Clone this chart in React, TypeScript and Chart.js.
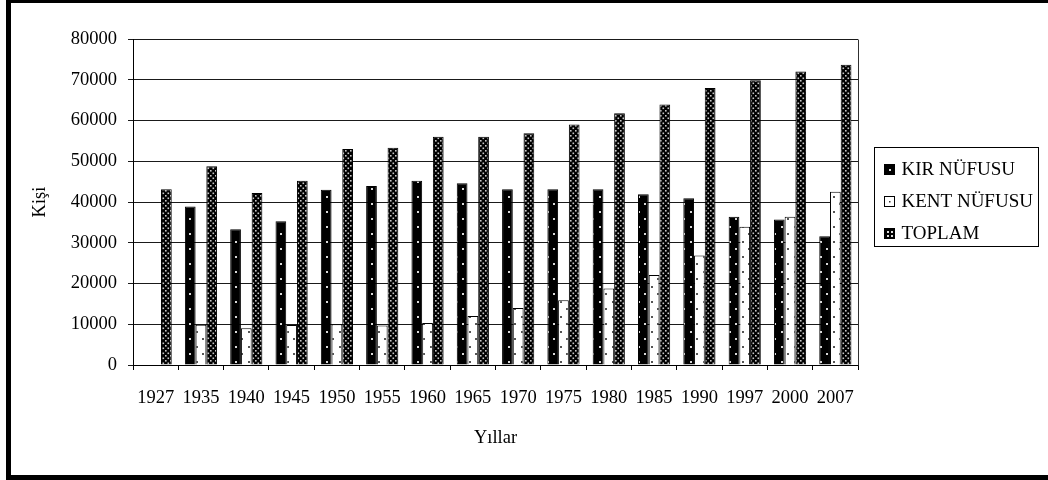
import React, { useEffect, useRef } from 'react';
import { Chart, registerables } from 'chart.js';

Chart.register(...registerables);

const years = ['1927', '1935', '1940', '1945', '1950', '1955', '1960', '1965', '1970', '1975', '1980', '1985', '1990', '1997', '2000', '2007'];
const kirNufusu = [null, 38900, 33300, 35300, 43000, 43900, 45200, 44600, 43100, 43100, 43100, 41900, 40900, 36400, 35700, 31600];
const kentNufusu = [null, 9900, 9000, 9800, 10000, 9700, 10300, 12000, 14000, 15900, 18800, 22100, 26900, 33900, 36400, 42500];
const toplam = [43100, 48800, 42200, 45200, 53000, 53300, 56000, 56000, 56900, 59000, 61800, 63900, 68000, 69900, 72000, 73700];
const seriesLabels = ['KIR NÜFUSU', 'KENT NÜFUSU', 'TOPLAM'];
const yMin = 0;
const yMax = 80000;
const yStep = 10000;
const xTitle = 'Yıllar';
const yTitle = 'Kişi';

const FONT = "'Liberation Serif', 'Times New Roman', Times, serif";

function makePattern(
  ctx: CanvasRenderingContext2D,
  w: number,
  h: number,
  bg: string,
  fg: string,
  dots: [number, number][],
  size: number
) {
  const c = document.createElement('canvas');
  c.width = w;
  c.height = h;
  const g = c.getContext('2d')!;
  g.fillStyle = bg;
  g.fillRect(0, 0, w, h);
  g.fillStyle = fg;
  dots.forEach(([x, y]) => g.fillRect(x, y, size, size));
  return ctx.createPattern(c, 'repeat')!;
}

export default function App() {
  const ref = useRef<HTMLCanvasElement>(null);

  useEffect(() => {
    const canvas = ref.current!;
    const ctx = canvas.getContext('2d')!;
    const pKir = makePattern(ctx, 13, 15, '#000', '#d8d8d8', [[1, 1], [7, 8]], 2);
    const pKent = makePattern(ctx, 13, 15, '#fff', '#555', [[1, 1], [7, 8]], 2);
    const pTop = makePattern(ctx, 5, 5, '#000', '#c8c8c8', [[0, 0], [2.5, 2.5]], 1.6);

    const decor = {
      id: 'decor',
      beforeDraw(chart: any) {
        const c = chart.ctx;
        c.save();
        c.fillStyle = '#fff';
        c.fillRect(0, 0, chart.width, chart.height);
        c.restore();
      },
      afterDraw(chart: any) {
        const c: CanvasRenderingContext2D = chart.ctx;
        const ca = chart.chartArea;
        c.save();
        // plot area border (right side)
        c.strokeStyle = '#303030';
        c.lineWidth = 1;
        c.beginPath();
        const rx = Math.round(ca.right) + 0.5;
        c.moveTo(rx, Math.round(ca.top) + 0.5);
        c.lineTo(rx, Math.round(ca.bottom) + 0.5);
        c.stroke();

        // legend
        const lx = Math.round(ca.right) + 16.5;
        const ly = Math.round(ca.top) + 108.5;
        const lw = 164;
        const lh = 99;
        c.strokeStyle = '#000';
        c.strokeRect(lx, ly, lw, lh);
        c.font = `19px ${FONT}`;
        c.textBaseline = 'middle';
        c.textAlign = 'left';
        seriesLabels.forEach((label, i) => {
          const cy = Math.round(ly + 21 + i * 32);
          const mx = Math.round(lx + 9);
          const my = cy - 5;
          if (i === 0) {
            c.fillStyle = '#000';
            c.fillRect(mx, my, 11, 11);
            c.fillStyle = '#ddd';
            c.fillRect(mx + 5, my + 5, 2, 2);
          } else if (i === 1) {
            c.fillStyle = '#fff';
            c.fillRect(mx, my, 11, 11);
            c.strokeStyle = '#000';
            c.strokeRect(mx + 0.5, my + 0.5, 10, 10);
            c.fillStyle = '#333';
            c.fillRect(mx + 5, my + 5, 1.5, 1.5);
          } else {
            c.fillStyle = '#000';
            c.fillRect(mx, my, 11, 11);
            c.fillStyle = '#ddd';
            c.fillRect(mx + 3, my + 3, 2, 2);
            c.fillRect(mx + 7, my + 3, 2, 2);
            c.fillRect(mx + 3, my + 7, 2, 2);
            c.fillRect(mx + 7, my + 7, 2, 2);
          }
          c.fillStyle = '#000';
          c.fillText(label, lx + 27, cy + 1);
        });
        c.restore();
      },
    };

    const chart = new Chart(canvas, {
      type: 'bar',
      data: {
        labels: years,
        datasets: [
          { label: seriesLabels[0], data: kirNufusu as any, backgroundColor: pKir as any, borderColor: '#000', borderWidth: 1 },
          { label: seriesLabels[1], data: kentNufusu as any, backgroundColor: pKent as any, borderColor: '#000', borderWidth: 1 },
          { label: seriesLabels[2], data: toplam, backgroundColor: pTop as any, borderColor: '#000', borderWidth: 1 },
        ],
      },
      options: {
        responsive: false,
        animation: false,
        devicePixelRatio: 1,
        layout: { padding: { top: 39, right: 190, bottom: 0, left: 0 } },
        datasets: { bar: { categoryPercentage: 0.71, barPercentage: 1.0 } },
        plugins: { legend: { display: false }, tooltip: { enabled: false } },
        scales: {
          x: {
            grid: { display: true, drawOnChartArea: false, drawTicks: true, tickLength: 5, color: '#000', offset: true },
            border: { display: true, color: '#000', width: 1 },
            ticks: { color: '#000', font: { family: FONT, size: 18.5, lineHeight: 1.2 }, padding: 17, autoSkip: false, maxRotation: 0, minRotation: 0 },
            title: { display: true, text: xTitle, color: '#000', font: { family: FONT, size: 18.5, lineHeight: 1.2 }, padding: { top: 0, bottom: 31 } },
            afterFit: (s: any) => { s.height = 115; },
          },
          y: {
            min: yMin,
            max: yMax,
            grid: { color: '#1a1a1a', lineWidth: 1, tickLength: 5, drawTicks: true },
            border: { display: true, color: '#000', width: 1 },
            ticks: { stepSize: yStep, color: '#000', font: { family: FONT, size: 18.5, lineHeight: 1.2 }, padding: 11, callback: (v: any) => String(v) },
            title: { display: true, text: yTitle, color: '#000', font: { family: FONT, size: 18.5, lineHeight: 1.2 }, padding: { top: 29, bottom: 0 } },
            afterFit: (s: any) => { s.width = 133; },
          },
        },
      },
      plugins: [decor],
    });
    return () => chart.destroy();
  }, []);

  return (
    <div style={{ position: 'fixed', left: 0, top: 0, width: 1048, height: 480, overflow: 'hidden', background: '#fff' }}>
      <canvas ref={ref} width={1048} height={480} style={{ position: 'absolute', left: 0, top: 0, width: 1048, height: 480 }} />
      <div style={{ position: 'absolute', left: 6, top: -2, width: 1060, height: 482, border: '5px solid #000', boxSizing: 'border-box', pointerEvents: 'none' }} />
    </div>
  );
}
